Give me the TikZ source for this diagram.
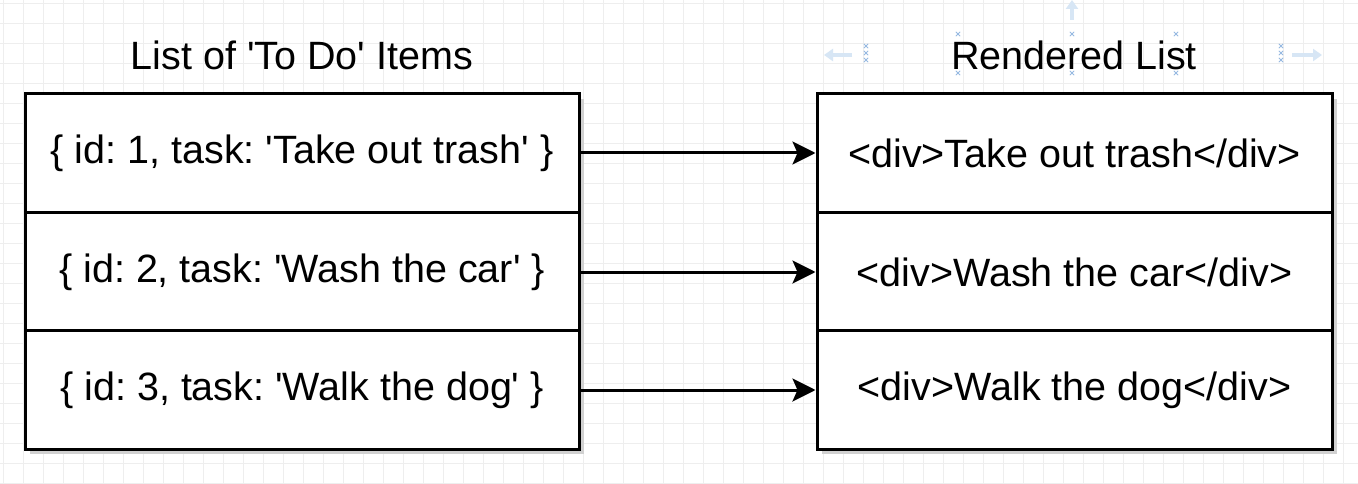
\documentclass[tikz,border=0pt]{standalone}
\usepackage{fontspec}
\setmainfont{Liberation Sans}
\usetikzlibrary{arrows.meta}
\definecolor{gridc}{RGB}{238,238,238}
\definecolor{handle}{RGB}{150,185,225}
\definecolor{handlearrow}{RGB}{215,230,245}
\newcommand{\sq}{\textquotesingle}
\tikzset{
  cell/.style={draw=black, line width=3pt, fill=white, minimum width=554pt, minimum height=119pt, inner sep=0pt, font=\fontsize{39.5}{44}\selectfont\frenchspacing},
  rcell/.style={cell, minimum width=515pt},
  title/.style={font=\fontsize{39.5}{44}\selectfont\frenchspacing, inner sep=0pt},
  conn/.style={line width=3pt, -{Stealth[length=23pt,width=23pt,inset=5pt]}},
  xmark/.style={handle, line width=0.8pt}
}
\begin{document}
\begin{tikzpicture}[x=1pt,y=-1pt]
\useasboundingbox (0,0) rectangle (1358,484);
\fill[white] (0,0) rectangle (1358,484);
% grid
\foreach \i in {0,...,68} {\draw[gridc, line width=0.6pt] (\i*20+3,0) -- (\i*20+3,484);}
\foreach \j in {0,...,24} {\draw[gridc, line width=0.6pt] (0,\j*20+3) -- (1358,\j*20+3);}
% titles
\node[title] (t1) at (302,55) {List of \sq To Do\sq{} Items};
\node[title] (t2) at (1074,55) {Rendered List};
% shadows
\fill[black!18] (30,99) rectangle (584,454);
\fill[black!18] (822,99) rectangle (1337,454);
% left cells
\node[cell] (l1) at (302,153) {\{ id: 1, task: \sq Take out trash\sq{} \}};
\node[cell] (l2) at (302,272) {\{ id: 2, task: \sq Wash the car\sq{} \}};
\node[cell] (l3) at (302,390) {\{ id: 3, task: \sq Walk the dog\sq{} \}};
% right cells
\node[rcell] (r1) at (1074.5,153) {<div>Take out trash</div>};
\node[rcell] (r2) at (1074.5,272) {<div>Wash the car</div>};
\node[rcell] (r3) at (1074.5,390) {<div>Walk the dog</div>};
% connectors
\draw[conn] (l1.east) -- (r1.west);
\draw[conn] (l2.east) -- (r2.west);
\draw[conn] (l3.east) -- (r3.west);
% selection handles
\foreach \x/\y in {866/46,866/53,866/60,1281/46,1281/53,1281/60,958/34,1072/34,1176/34,958/73,1072/73,1176/73} {
  \draw[xmark] (\x-2.2,\y-2.2) -- (\x+2.2,\y+2.2) (\x-2.2,\y+2.2) -- (\x+2.2,\y-2.2);
}
\draw[handlearrow, line width=4pt, -{Triangle[length=9pt,width=12pt]}] (852,55) -- (824,55);
\draw[handlearrow, line width=4pt, -{Triangle[length=9pt,width=12pt]}] (1292,55) -- (1322,55);
\draw[handlearrow, line width=4pt, -{Triangle[length=9pt,width=12pt]}] (1072,20) -- (1072,0);
\end{tikzpicture}
\end{document}
